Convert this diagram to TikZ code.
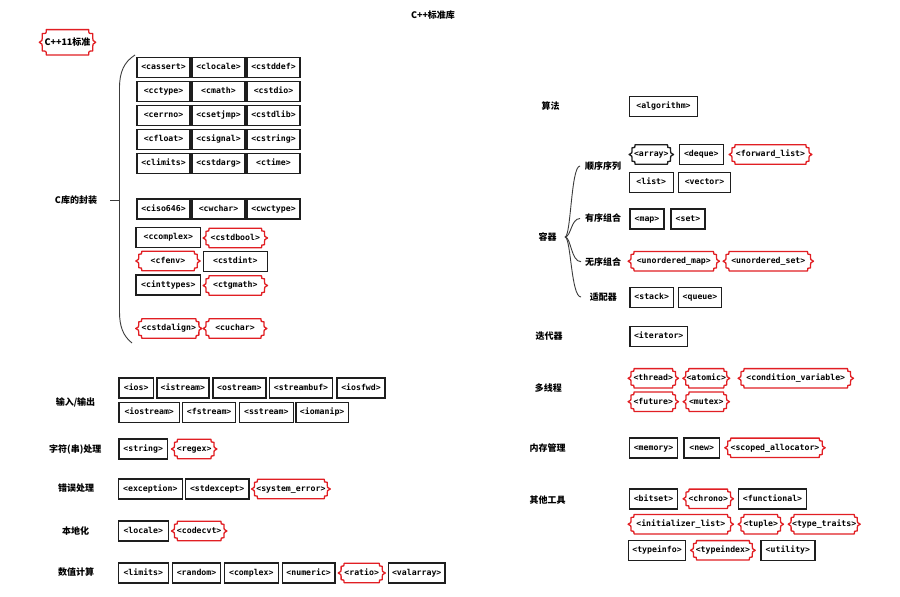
\documentclass[tikz,border=0pt]{standalone}
\usepackage{fontspec}
\setmainfont{Noto Sans CJK SC}
\newfontfamily\cjk{Noto Sans CJK SC}
\newfontfamily\tagfont{DejaVu Sans Mono}
\usetikzlibrary{calc}
\definecolor{tagred}{RGB}{225,30,35}
\definecolor{boxblack}{RGB}{30,30,30}
\definecolor{bracegray}{RGB}{60,60,60}
\tikzset{
  tagtext/.style={font=\tagfont\bfseries\fontsize{8.2}{9}\selectfont, text height=6.2pt, text depth=1.6pt},
  bbox/.style={tagtext, draw=boxblack, line width=1.5pt, fill=white, minimum height=20pt, inner xsep=1pt, inner ysep=0pt},
  rbox/.style={tagtext, minimum height=19pt, inner xsep=0.5pt, inner ysep=0pt},
  lab/.style={font=\cjk\bfseries\fontsize{9}{10}\selectfont, inner sep=1pt},
  notchline/.style={line width=1.3pt, line join=round},
  brace/.style={draw=bracegray, line width=0.9pt}
}
% notched (scroll) outline around a node: name, colour, corner size
\newcommand\notchshape[3]{%
  \draw[notchline, draw=#2]
    ($(#1.north west)+(#3,0)$) -- ($(#1.north east)+(-#3,0)$)
    .. controls ($(#1.north east)+(-#3,-#3)$) .. ($(#1.north east)+(0,-#3)$)
    .. controls ($(#1.east)+(0,1pt)$) .. ($(#1.east)+(3pt,0)$)
    .. controls ($(#1.east)+(0,-1pt)$) .. ($(#1.south east)+(0,#3)$)
    .. controls ($(#1.south east)+(-#3,#3)$) .. ($(#1.south east)+(-#3,0)$)
    -- ($(#1.south west)+(#3,0)$)
    .. controls ($(#1.south west)+(#3,#3)$) .. ($(#1.south west)+(0,#3)$)
    .. controls ($(#1.west)+(0,-1pt)$) .. ($(#1.west)+(-3pt,0)$)
    .. controls ($(#1.west)+(0,1pt)$) .. ($(#1.north west)+(0,-#3)$)
    .. controls ($(#1.north west)+(#3,-#3)$) .. ($(#1.north west)+(#3,0)$) -- cycle;}
\newcommand\bb[5]{\node[bbox, minimum width=#4pt] (#1) at (#2,#3) {#5};}
\newcommand\rb[5]{\node[rbox, minimum width=#4pt] (#1) at (#2,#3) {#5};\notchshape{#1}{tagred}{3pt}}
\newcommand\kb[5]{\node[rbox, minimum width=#4pt] (#1) at (#2,#3) {#5};\notchshape{#1}{boxblack}{3pt}}
\begin{document}
\begin{tikzpicture}[x=1pt,y=-1pt]
\fill[white] (0,0) rectangle (900,597);
\useasboundingbox (0,0) rectangle (900,597);

% title and top tag
\node[lab] (title) at (433,15.5) {C++标准库};
\node[lab, minimum width=50pt, minimum height=25pt, inner sep=0pt] (cpp11) at (67.5,42.3) {C++11标准};
\notchshape{cpp11}{tagred}{4pt}

% ---------- C library wrappers ----------
\node[lab] (clib) at (76,200.5) {C库的封装};
\coordinate (cbtop) at (135,55);
\coordinate (cbbot) at (132,343);
\coordinate (cbtip) at (110,200.5);
\coordinate (cbspine) at (119.5,200.5);
\draw[brace] (cbtop) .. controls (124,62) and (119.5,72) .. (119.5,88) -- (119.5,312) .. controls (119.5,326) and (123,336) .. (cbbot);
\draw[brace] (cbtip) -- (cbspine);

\bb{cassert}{163.5}{67.5}{53}{<cassert>}
\bb{clocale}{218.5}{67.5}{53}{<clocale>}
\bb{cstddef}{273.5}{67.5}{53}{<cstddef>}
\bb{cctype}{163.5}{91.5}{53}{<cctype>}
\bb{cmath}{218.5}{91.5}{53}{<cmath>}
\bb{cstdio}{273.5}{91.5}{53}{<cstdio>}
\bb{cerrno}{163.5}{115.5}{53}{<cerrno>}
\bb{csetjmp}{218.5}{115.5}{53}{<csetjmp>}
\bb{cstdlib}{273.5}{115.5}{53}{<cstdlib>}
\bb{cfloat}{163.5}{139.5}{53}{<cfloat>}
\bb{csignal}{218.5}{139.5}{53}{<csignal>}
\bb{cstring}{273.5}{139.5}{53}{<cstring>}
\bb{climits}{163.5}{163.5}{53}{<climits>}
\bb{cstdarg}{218.5}{163.5}{53}{<cstdarg>}
\bb{ctime}{273.5}{163.5}{53}{<ctime>}
\bb{ciso}{163.5}{209}{53}{<ciso646>}
\bb{cwchar}{218.5}{209}{53}{<cwchar>}
\bb{cwctype}{273.5}{209}{53}{<cwctype>}
\bb{ccomplex}{168.3}{237.5}{64.5}{<ccomplex>}
\rb{cstdbool}{235.3}{238}{58}{<cstdbool>}
\rb{cfenv}{168}{261}{58}{<cfenv>}
\bb{cstdint}{235.3}{261.3}{64}{<cstdint>}
\bb{cinttypes}{168.3}{285}{64.5}{<cinttypes>}
\rb{ctgmath}{235.3}{285.5}{58}{<ctgmath>}
\rb{cstdalign}{168.8}{328.5}{59.7}{<cstdalign>}
\rb{cuchar}{235}{328.5}{57.4}{<cuchar>}

% ---------- I/O ----------
\node[lab] (io) at (75.5,402.7) {输入/输出};
\bb{ios}{136.2}{388}{34.3}{<ios>}
\bb{istream}{182.9}{388}{52.3}{<istream>}
\bb{ostream}{239.4}{388}{53.3}{<ostream>}
\bb{streambuf}{301}{388}{63.4}{<streambuf>}
\bb{iosfwd}{361}{388}{48}{<iosfwd>}
\bb{iostream}{149.2}{412.5}{60.3}{<iostream>}
\bb{fstream}{209.2}{412.5}{53}{<fstream>}
\bb{sstream}{266.3}{412.5}{54}{<sstream>}
\bb{iomanip}{322.2}{412.5}{52.3}{<iomanip>}

\node[lab] (strp) at (75.3,449.3) {字符(串)处理};
\bb{string}{143.2}{449}{48.3}{<string>}
\rb{regex}{194.2}{449}{39}{<regex>}

\node[lab] (errp) at (76,488.5) {错误处理};
\bb{exception}{150.3}{489}{64}{<exception>}
\bb{stdexcept}{217.2}{489}{63.7}{<stdexcept>}
\rb{syserr}{290.9}{489}{72.3}{<system\_error>}

\node[lab] (loc) at (75.5,531) {本地化};
\bb{locale}{143.3}{531}{50}{<locale>}
\rb{codecvt}{199.2}{531}{49}{<codecvt>}

\node[lab] (num) at (76,572.5) {数值计算};
\bb{limits}{143.3}{573}{50}{<limits>}
\bb{random}{196.5}{573}{48.4}{<random>}
\bb{complex}{251.3}{573}{54}{<complex>}
\bb{numeric}{308.7}{573}{52.7}{<numeric>}
\rb{ratio}{361.7}{573}{40.7}{<ratio>}
\bb{valarray}{416.7}{573}{56.7}{<valarray>}

% ---------- right column ----------
\node[lab] (algo) at (550.5,106.5) {算法};
\bb{algorithm}{663.5}{106.5}{68.4}{<algorithm>}

\node[lab] (cont) at (547.5,237) {容器};
\node[lab] (seq) at (603,166) {顺序序列};
\node[lab] (ord) at (603,218.5) {有序组合};
\node[lab] (unord) at (603,261.7) {无序组合};
\node[lab] (adapt) at (603.3,297) {适配器};
\coordinate (ctip) at (565,237);
\coordinate (b1) at (580,166);
\coordinate (b2) at (580,218.5);
\coordinate (b3) at (581,261.7);
\coordinate (b4) at (581,297);
\draw[brace] (ctip) .. controls (571,237) and (571,166) .. (b1);
\draw[brace] (ctip) .. controls (571,237) and (571,218.5) .. (b2);
\draw[brace] (ctip) .. controls (571,237) and (571,261.7) .. (b3);
\draw[brace] (ctip) .. controls (571,237) and (571,297) .. (b4);

\kb{array}{651.3}{154.5}{38}{<array>}
\bb{deque}{701.3}{154.5}{44}{<deque>}
\rb{fwdlist}{770.5}{154.5}{76.4}{<forward\_list>}
\bb{list}{651.3}{182.5}{44}{<list>}
\bb{vector}{704.5}{182.5}{52.4}{<vector>}
\bb{map}{647}{219}{34}{<map>}
\bb{set}{688}{219}{34}{<set>}
\rb{umap}{673.8}{261.2}{85}{<unordered\_map>}
\rb{uset}{768.3}{261.2}{84}{<unordered\_set>}
\bb{stack}{651.7}{297.3}{43.3}{<stack>}
\bb{queue}{700}{297.3}{43.4}{<queue>}

\node[lab] (iterl) at (549,336.5) {迭代器};
\bb{iterator}{658.7}{336.3}{57.3}{<iterator>}

\node[lab] (mt) at (548.3,387.7) {多线程};
\rb{thread}{653.3}{378.3}{44}{<thread>}
\rb{atomic}{706.3}{378.3}{40}{<atomic>}
\rb{condvar}{795.8}{378.3}{109}{<condition\_variable>}
\rb{future}{653.3}{401.7}{44}{<future>}
\rb{mutex}{706.3}{401.7}{40}{<mutex>}

\node[lab] (mem) at (547.5,447.7) {内存管理};
\bb{memory}{653.5}{447.8}{48.4}{<memory>}
\bb{new}{701.7}{447.8}{35.3}{<new>}
\rb{scoped}{775}{447.8}{94}{<scoped\_allocator>}

\node[lab] (other) at (547.5,500) {其他工具};
\bb{bitset}{653.5}{498.8}{48.4}{<bitset>}
\rb{chrono}{708.3}{498.8}{44}{<chrono>}
\bb{functional}{772.5}{498.8}{68.4}{<functional>}
\rb{initlist}{680.8}{524.2}{99}{<initializer\_list>}
\rb{tuple}{760.8}{524.2}{39}{<tuple>}
\rb{typetraits}{824.2}{524.2}{65.7}{<type\_traits>}
\bb{typeinfo}{657}{550.3}{57.4}{<typeinfo>}
\rb{typeindex}{722.9}{550.3}{58.3}{<typeindex>}
\bb{utility}{787.9}{550.3}{54.3}{<utility>}
\end{tikzpicture}
\end{document}
